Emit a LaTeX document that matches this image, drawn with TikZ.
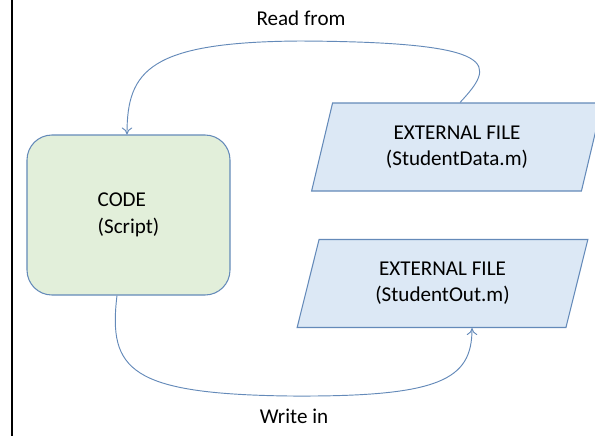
\documentclass[tikz,border=0pt]{standalone}
\usepackage{xcolor}
\usepackage{fontspec}
\setmainfont{Carlito}
\usepackage{tikz}
\usetikzlibrary{shapes.geometric, arrows.meta}
\definecolor{codegreen}{RGB}{226, 239, 218}
\definecolor{fileblue}{RGB}{220, 232, 245}
\definecolor{edgeblue}{RGB}{100, 138, 185}

\begin{document}
\begin{tikzpicture}[
    x=0.03cm, y=-0.03cm,
    every node/.style={font=\fontsize{18}{22.5}\selectfont},
    codebox/.style={rectangle, rounded corners=0.75cm, draw=edgeblue, line width=0.9pt, fill=codegreen, minimum width=6.09cm, minimum height=4.8cm, align=left},
    filebox/.style={trapezium, trapezium left angle=76, trapezium right angle=104, trapezium stretches=true, draw=edgeblue, line width=0.9pt, fill=fileblue, minimum width=8.73cm, minimum height=2.64cm, align=center},
    flow/.style={draw=edgeblue, line width=0.8pt, -{To[length=6pt, width=9pt]}}
]
\useasboundingbox (0,0) rectangle (595,436);

% left frame line
\draw[black, line width=1.6pt] (12,0) -- (12,436);

\node[codebox] (code) at (128.5,215) {CODE\\(Script)};
\node[filebox] (dataFile) at (457,147) {EXTERNAL FILE\\(StudentData.m)};
\node[filebox] (outFile) at (442.5,283.5) {EXTERNAL FILE\\(StudentOut.m)};

\node (readLabel) at (301,18) {Read from};
\node (writeLabel) at (294,416) {Write in};

% read and write paths
\draw[flow] (dataFile.north) ++(3,0) .. controls (495,65) and (505,42) .. (300,41) .. controls (150,42) and (127,70) .. (code.north -| 127,0);
\draw[flow] (code.south -| 117,0) .. controls (108,370) and (130,394) .. (290,396) .. controls (440,397) and (472,380) .. (outFile.south -| 472,0);

\end{tikzpicture}
\end{document}
